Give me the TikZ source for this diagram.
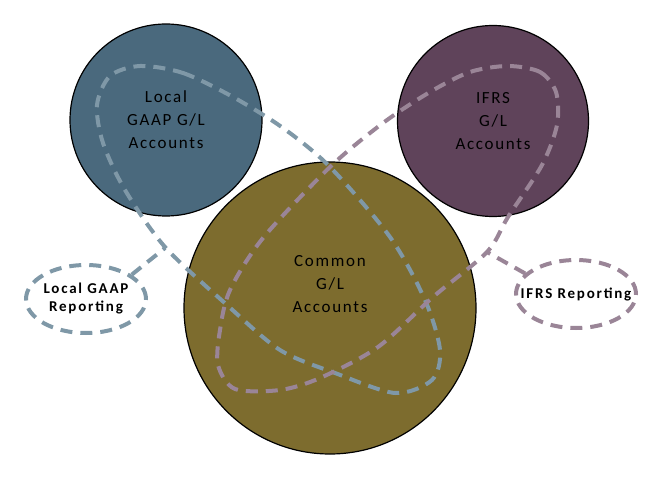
\documentclass[tikz,border=0pt]{standalone}
\usepackage{fontspec}
\setmainfont{Carlito}
\usetikzlibrary{shapes.geometric}
\definecolor{gaapblue}{HTML}{4A697D}
\definecolor{ifrsplum}{HTML}{5F435A}
\definecolor{commonolive}{HTML}{7D6C2E}
\definecolor{gaapdash}{HTML}{7F98A7}
\definecolor{ifrsdash}{HTML}{9A8597}
\tikzset{
  acct/.style={circle, draw=black, line width=1.2pt, align=center, inner sep=0pt,
    font=\fontsize{17}{23}\selectfont\addfontfeature{LetterSpace=10}},
  accttext/.style={align=center, inner sep=0pt, font=\fontsize{17}{23}\selectfont\addfontfeature{LetterSpace=10}},
  loopline/.style={line width=4pt, dash pattern=on 12pt off 8pt},
  rep/.style={ellipse, draw, line width=4pt, dash pattern=on 12pt off 8pt,
    minimum width=120pt, minimum height=68pt, inner sep=0pt},
  reptext/.style={align=center, inner sep=0pt, font=\fontsize{15}{18}\selectfont\bfseries\addfontfeature{LetterSpace=12}}
}
\begin{document}
\begin{tikzpicture}[x=1pt, y=-1pt]
    \useasboundingbox (0,0) rectangle (669,481);
    \node[acct, fill=gaapblue, minimum size=192pt] (lgl) at (166,120) {Local\\GAAP G/L\\Accounts};
    \node[acct, fill=ifrsplum, minimum size=191pt] (igl) at (493,121) {IFRS\\G/L\\Accounts};
    \node[acct, fill=commonolive, minimum size=292pt] (cgl) at (330,308) {};
    \node[accttext] (cgltext) at (330,284) {Common\\G/L\\Accounts};
    \draw[loopline, gaapdash] plot[smooth cycle, tension=0.5] coordinates {(140,66) (183,73) (233,97) (283,128) (330,167) (390,237) (425,300) (440,350) (432,380) (395,393) (335,373) (280,350) (227,305) (165,247) (125,190) (103,143) (97,105) (110,76)};
    \draw[loopline, ifrsdash] plot[smooth cycle, tension=0.5] coordinates {(508,66) (540,72) (556,92) (557,125) (542,165) (508,217) (487,252) (433,297) (378,347) (320,378) (280,390) (235,389) (218,365) (220,330) (230,290) (263,238) (330,167) (383,123) (430,92) (470,72)};
    \coordinate (lgj) at (165,248);
    \coordinate (igj) at (487,252);
    \node[rep, draw=gaapdash, label={[reptext]center:Local GAAP\\Reporting}] (lgr) at (86,299) {};
    \node[rep, draw=ifrsdash, label={[reptext]center:IFRS Reporting}] (ifr) at (576,294) {};
    \draw[loopline, gaapdash] (lgr.28) -- (lgj);
    \draw[loopline, ifrsdash] (ifr.158) -- (igj);
\end{tikzpicture}
\end{document}
